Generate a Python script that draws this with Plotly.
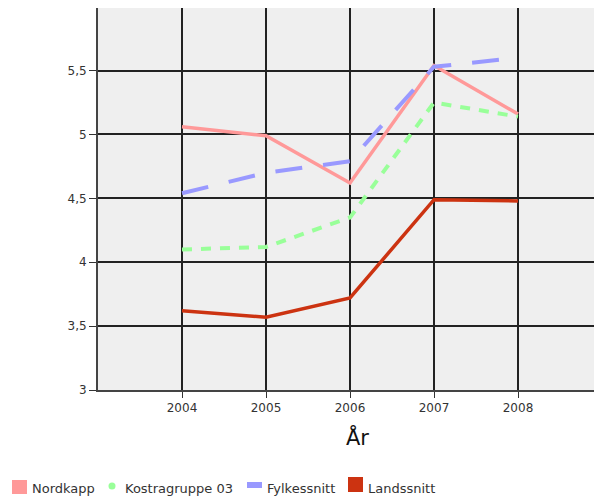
import plotly.graph_objects as go

years = [2004, 2005, 2006, 2007, 2008]
nordkapp = [5.06, 4.99, 4.62, 5.54, 5.16]
kostragruppe = [4.10, 4.12, 4.35, 5.25, 5.14]
fylkessnitt = [4.54, 4.70, 4.79, 5.53, 5.60]
landssnitt = [3.62, 3.57, 3.72, 4.49, 4.48]

y_ticks = [3, 3.5, 4, 4.5, 5, 5.5]
y_labels = ["3", "3,5", "4", "4,5", "5", "5,5"]

names = ["Nordkapp", "Kostragruppe 03", "Fylkessnitt", "Landssnitt"]
values = [nordkapp, kostragruppe, fylkessnitt, landssnitt]
colors = ["#FF9999", "#99FF99", "#9999FF", "#CC3311"]
dashes = ["solid", "10px,9px", "27px,21px", "solid"]
widths = [3.5, 4, 4, 3.5]

# the page has an 8px body margin, so the plot area in page pixels is
# x 98..602, y 8..390
PX0, PX1, PY0, PY1 = 98, 602, 8, 390


def px(x):
    return (x - PX0) / (PX1 - PX0)


def py(y):
    return (PY1 - y) / (PY1 - PY0)


fig = go.Figure()
for name, vals, color, dash, w in zip(names, values, colors, dashes, widths):
    fig.add_trace(go.Scatter(x=years, y=vals, mode="lines", name=name,
                             line=dict(color=color, width=w, dash=dash),
                             showlegend=False))

# hand-made legend: swatch box in page px, swatch kind, text start x
legend_items = [
    ((12, 480, 27, 494), "rect", 30),
    ((108.5, 482.5, 115.5, 489.5), "circle", 123),
    ((247, 482, 262, 488), "rect", 265),
    ((348, 477, 363, 492), "rect", 366),
]
for name, color, ((x0, y0, x1, y1), kind, tx) in zip(names, colors, legend_items):
    fig.add_shape(type=kind, xref="paper", yref="paper",
                  x0=px(x0), x1=px(x1), y0=py(y1), y1=py(y0),
                  fillcolor=color, line=dict(width=0))
    fig.add_annotation(text=name, xref="paper", yref="paper", x=px(tx), y=py(488),
                       xanchor="left", yanchor="middle", showarrow=False,
                       font=dict(size=13, color="#333333"))

fig.add_annotation(text="År", xref="paper", yref="paper", x=px(357), y=py(437),
                   xanchor="center", yanchor="middle", showarrow=False,
                   font=dict(size=21, color="#111111"))

fig.update_layout(
    width=594, height=491,
    margin=dict(l=90, r=0, t=0, b=109),
    paper_bgcolor="white",
    plot_bgcolor="#EFEFEF",
    font=dict(family="DejaVu Sans", size=12, color="#333333"),
    showlegend=False,
)
fig.update_xaxes(
    range=[2003, 2009], tickvals=years, ticks="outside",
    ticklen=6, tickcolor="#333333", showgrid=True, gridcolor="#222222",
    gridwidth=1.5, zeroline=False, showline=True, linecolor="#444444",
    linewidth=2,
)
fig.update_yaxes(
    range=[3, 5.99], tickvals=y_ticks, ticktext=y_labels, ticks="outside",
    ticklen=7, tickcolor="#333333", showgrid=True, gridcolor="#222222",
    gridwidth=1.5, zeroline=False, showline=True, linecolor="#444444",
    linewidth=2,
)

fig.write_html("out.html")
